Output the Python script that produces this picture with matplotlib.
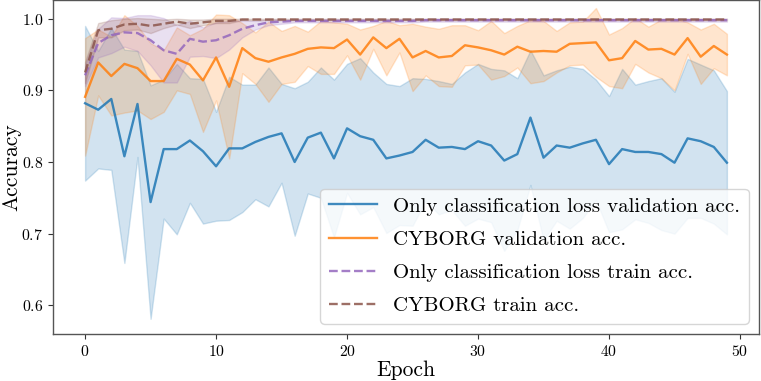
import matplotlib
matplotlib.use("Agg")
import matplotlib.pyplot as plt
import numpy as np

plt.rcParams['font.family'] = ['cmr10', 'DejaVu Serif']
plt.rcParams['mathtext.fontset'] = 'cm'
plt.rcParams['axes.formatter.use_mathtext'] = True

epochs = list(range(50))

cls_val_mean = [0.882, 0.873, 0.888, 0.808, 0.881, 0.744, 0.818, 0.818, 0.830, 0.815,
                0.794, 0.819, 0.819, 0.828, 0.835, 0.840, 0.800, 0.834, 0.841, 0.805,
                0.847, 0.836, 0.831, 0.805, 0.809, 0.814, 0.831, 0.820, 0.821, 0.818,
                0.829, 0.823, 0.802, 0.811, 0.862, 0.806, 0.823, 0.820, 0.826, 0.831,
                0.797, 0.818, 0.814, 0.814, 0.811, 0.799, 0.833, 0.829, 0.821, 0.799]
cls_val_std = [0.108, 0.082, 0.099, 0.149, 0.074, 0.163, 0.097, 0.119, 0.087, 0.101,
               0.076, 0.100, 0.089, 0.080, 0.097, 0.069, 0.103, 0.078, 0.091, 0.110,
               0.090, 0.109, 0.094, 0.104, 0.097, 0.103, 0.085, 0.093, 0.088, 0.107,
               0.108, 0.107, 0.126, 0.106, 0.094, 0.115, 0.105, 0.113, 0.104, 0.084,
               0.095, 0.112, 0.094, 0.099, 0.106, 0.099, 0.111, 0.107, 0.107, 0.100]

cyb_val_mean = [0.891, 0.939, 0.920, 0.937, 0.931, 0.913, 0.913, 0.944, 0.936, 0.914,
                0.946, 0.905, 0.959, 0.945, 0.940, 0.946, 0.951, 0.958, 0.960, 0.959,
                0.971, 0.950, 0.974, 0.959, 0.972, 0.946, 0.955, 0.946, 0.948, 0.963,
                0.960, 0.956, 0.950, 0.961, 0.954, 0.955, 0.954, 0.965, 0.966, 0.967,
                0.942, 0.945, 0.969, 0.957, 0.958, 0.950, 0.973, 0.947, 0.962, 0.950]
cyb_val_std = [0.082, 0.046, 0.055, 0.068, 0.059, 0.053, 0.043, 0.044, 0.041, 0.072,
               0.060, 0.100, 0.035, 0.036, 0.056, 0.037, 0.039, 0.024, 0.037, 0.036,
               0.022, 0.035, 0.016, 0.038, 0.019, 0.047, 0.034, 0.040, 0.043, 0.028,
               0.024, 0.041, 0.030, 0.029, 0.044, 0.042, 0.029, 0.030, 0.030, 0.048,
               0.036, 0.042, 0.032, 0.032, 0.041, 0.050, 0.022, 0.038, 0.031, 0.029]

cls_train_mean = [0.921, 0.966, 0.977, 0.981, 0.980, 0.970, 0.956, 0.951, 0.972, 0.968,
                  0.970, 0.977, 0.986, 0.991, 0.995, 0.996, 0.997, 0.997, 0.997, 0.997,
                  0.997, 0.997, 0.997, 0.997, 0.997, 0.997, 0.998, 0.998, 0.998, 0.998,
                  0.998, 0.998, 0.998, 0.998, 0.998, 0.998, 0.998, 0.998, 0.998, 0.998,
                  0.998, 0.998, 0.998, 0.998, 0.998, 0.998, 0.998, 0.998, 0.998, 0.998]
cls_train_std = [0.015, 0.020, 0.025, 0.020, 0.025, 0.035, 0.045, 0.040, 0.025, 0.020,
                 0.025, 0.020, 0.012, 0.006, 0.004, 0.003, 0.002, 0.002, 0.002, 0.002,
                 0.002, 0.002, 0.002, 0.002, 0.002, 0.002, 0.002, 0.002, 0.002, 0.002,
                 0.002, 0.002, 0.002, 0.002, 0.002, 0.002, 0.002, 0.002, 0.002, 0.002,
                 0.002, 0.002, 0.002, 0.002, 0.002, 0.002, 0.002, 0.002, 0.002, 0.002]

cyb_train_mean = [0.925, 0.984, 0.986, 0.992, 0.993, 0.990, 0.993, 0.996, 0.993, 0.995,
                  0.997, 0.997, 0.999, 0.999, 0.999, 0.999, 0.999, 0.999, 0.999, 0.999,
                  0.999, 0.999, 0.999, 0.999, 0.999, 0.999, 0.999, 0.999, 0.999, 0.999,
                  0.999, 0.999, 0.999, 0.999, 0.999, 0.999, 0.999, 0.999, 0.999, 0.999,
                  0.999, 0.999, 0.999, 0.999, 0.999, 0.999, 0.999, 0.999, 0.999, 0.999]
cyb_train_std = [0.015, 0.010, 0.012, 0.008, 0.008, 0.010, 0.006, 0.004, 0.006, 0.004,
                 0.003, 0.003, 0.001, 0.001, 0.001, 0.001, 0.001, 0.001, 0.001, 0.001,
                 0.001, 0.001, 0.001, 0.001, 0.001, 0.001, 0.001, 0.001, 0.001, 0.001,
                 0.001, 0.001, 0.001, 0.001, 0.001, 0.001, 0.001, 0.001, 0.001, 0.001,
                 0.001, 0.001, 0.001, 0.001, 0.001, 0.001, 0.001, 0.001, 0.001, 0.001]

labels = ["Only classification loss validation acc.",
          "CYBORG validation acc.",
          "Only classification loss train acc.",
          "CYBORG train acc."]

series = [
    (cls_val_mean, cls_val_std, '#1f77b4', '-'),
    (cyb_val_mean, cyb_val_std, '#ff7f0e', '-'),
    (cls_train_mean, cls_train_std, '#9467bd', '--'),
    (cyb_train_mean, cyb_train_std, '#8c564b', '--'),
]

fig = plt.figure(figsize=(7.61, 3.81), dpi=100)
ax = fig.add_axes([53 / 761, 47 / 381, 706 / 761, 334 / 381])

x = np.array(epochs)
for (m, s, c, ls), lab in zip(series, labels):
    m = np.array(m)
    s = np.array(s)
    ax.fill_between(x, m - s, m + s, color=c, alpha=0.2, linewidth=1)
    ax.plot(x, m, color=c, linestyle=ls, linewidth=1.7, alpha=0.85, label=lab)

ax.set_xlim(-2.45, 51.45)
ax.set_ylim(0.5598, 1.0262)
ax.set_xticks([0, 10, 20, 30, 40, 50])
ax.set_yticks([0.6, 0.7, 0.8, 0.9, 1.0])
ax.tick_params(labelsize=11.3, color='#333333')
for sp in ax.spines.values():
    sp.set_color('#555555')
    sp.set_linewidth(1.0)

ax.set_xlabel("Epoch", fontsize=15.5, labelpad=1)
ax.set_ylabel("Accuracy", fontsize=15.5, labelpad=0)

ax.legend(loc='lower right', fontsize=15, handlelength=2.3, framealpha=0.8,
          labelspacing=0.7)

fig.savefig("out.png", dpi=100)
